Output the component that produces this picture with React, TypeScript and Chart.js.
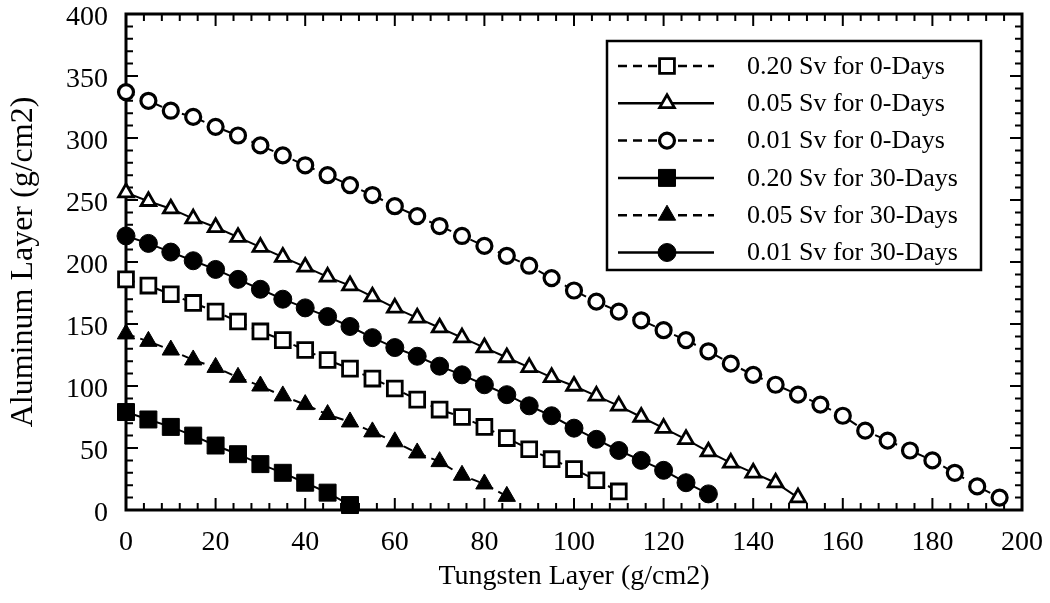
import React, { useEffect, useRef } from 'react';
import { Chart, registerables, PointElement } from 'chart.js';

Chart.register(...registerables);

// Tungsten layer (g/cm2) sample positions
const tungsten = [
  0, 5, 10, 15, 20, 25, 30, 35, 40, 45, 50, 55, 60, 65, 70, 75, 80, 85, 90, 95,
  100, 105, 110, 115, 120, 125, 130, 135, 140, 145, 150, 155, 160, 165, 170, 175, 180, 185, 190, 195,
];

// Aluminum layer (g/cm2) values per series
const sv020day0 = [186, 181, 174, 167, 160, 152, 144, 137, 129, 121, 114, 106, 98, 89, 81, 75, 67, 58, 49, 41, 33, 24, 15];
const sv005day0 = [256, 249, 243, 235, 228, 220, 212, 204, 196, 188, 181, 172, 163, 155, 147, 139, 131, 123, 115, 107, 100, 92, 84, 75, 66, 57, 47, 38, 30, 22, 10];
const sv001day0 = [337, 330, 322, 317, 309, 302, 294, 286, 278, 270, 262, 254, 245, 237, 229, 221, 213, 205, 197, 187, 177, 168, 160, 153, 145, 137, 128, 118, 109, 101, 93, 85, 76, 64, 56, 48, 40, 30, 19, 10];
const sv020day30 = [79, 73, 67, 60, 52, 45, 37, 30, 22, 14, 4];
const sv005day30 = [142, 136, 129, 121, 115, 107, 100, 92, 85, 77, 71, 63, 55, 46, 39, 28, 21, 11];
const sv001day30 = [221, 215, 208, 201, 194, 186, 178, 170, 163, 156, 148, 139, 131, 124, 116, 109, 101, 93, 84, 76, 66, 57, 48, 40, 32, 22, 13];

const seriesLabels = [
  '0.20 Sv for 0-Days',
  '0.05 Sv for 0-Days',
  '0.01 Sv for 0-Days',
  '0.20 Sv for 30-Days',
  '0.05 Sv for 30-Days',
  '0.01 Sv for 30-Days',
];
const seriesValues = [sv020day0, sv005day0, sv001day0, sv020day30, sv005day30, sv001day30];

const xTitle = 'Tungsten Layer (g/cm2)';
const yTitle = 'Aluminum Layer (g/cm2)';

const FONT = '"Liberation Serif", "Times New Roman", Times, serif';

const DASH = [9, 6];
const seriesStyles = [
  { pointStyle: 'rect', radius: 10.5, bw: 2.8, fill: '#ffffff', dash: DASH },
  { pointStyle: 'triangle', radius: 8.5, bw: 2.8, fill: '#ffffff', dash: [] },
  { pointStyle: 'circle', radius: 7.5, bw: 3.2, fill: '#ffffff', dash: DASH },
  { pointStyle: 'rect', radius: 12, bw: 1, fill: '#000000', dash: [] },
  { pointStyle: 'triangle', radius: 10, bw: 1, fill: '#000000', dash: DASH },
  { pointStyle: 'circle', radius: 9, bw: 1, fill: '#000000', dash: [] },
];

const frameTicks = {
  id: 'frameTicks',
  beforeDatasetsDraw(chart: any) {
    const { ctx, chartArea: a, scales } = chart;
    const xs = scales.x;
    const ys = scales.y;
    ctx.save();
    ctx.strokeStyle = '#000';
    ctx.lineWidth = 2;
    ctx.beginPath();
    for (let v = 0; v <= 200; v += 4) {
      const px = xs.getPixelForValue(v);
      const len = v % 20 === 0 ? 12 : 7;
      ctx.moveTo(px, a.bottom);
      ctx.lineTo(px, a.bottom - len);
      ctx.moveTo(px, a.top);
      ctx.lineTo(px, a.top + len);
    }
    for (let v = 0; v <= 400; v += 10) {
      const py = ys.getPixelForValue(v);
      const len = v % 50 === 0 ? 12 : 7;
      ctx.moveTo(a.left, py);
      ctx.lineTo(a.left + len, py);
      ctx.moveTo(a.right, py);
      ctx.lineTo(a.right - len, py);
    }
    ctx.stroke();
    ctx.lineWidth = 3;
    ctx.strokeRect(a.left, a.top, a.right - a.left, a.bottom - a.top);
    ctx.restore();
  },
};

const legendBox = {
  id: 'legendBox',
  afterDraw(chart: any) {
    const ctx = chart.ctx;
    const left = 607;
    const top = 41;
    const right = 981;
    const bottom = 270;
    const firstY = 66;
    const rowH = 37.3;
    ctx.save();
    ctx.fillStyle = '#fff';
    ctx.fillRect(left, top, right - left, bottom - top);
    ctx.strokeStyle = '#000';
    ctx.lineWidth = 2.5;
    ctx.strokeRect(left, top, right - left, bottom - top);
    chart.data.datasets.forEach((ds: any, i: number) => {
      const cy = firstY + i * rowH;
      ctx.save();
      ctx.strokeStyle = '#000';
      ctx.lineWidth = 2.5;
      ctx.setLineDash(ds.borderDash || []);
      ctx.beginPath();
      ctx.moveTo(618, cy);
      ctx.lineTo(714, cy);
      ctx.stroke();
      ctx.restore();
      const pt: any = new (PointElement as any)({
        x: 667,
        y: cy,
        options: {
          pointStyle: ds.pointStyle,
          radius: ds.pointRadius,
          borderWidth: ds.pointBorderWidth,
          borderColor: '#000',
          backgroundColor: ds.pointBackgroundColor,
          rotation: 0,
        },
      });
      pt.draw(ctx);
      ctx.fillStyle = '#000';
      ctx.font = `26px ${FONT}`;
      ctx.textBaseline = 'middle';
      ctx.textAlign = 'left';
      ctx.fillText(ds.label, 747, cy + 1);
    });
    ctx.restore();
  },
};

export default function App() {
  const canvasRef = useRef<HTMLCanvasElement | null>(null);

  useEffect(() => {
    if (!canvasRef.current) return;
    const datasets = seriesValues.map((vals, i) => {
      const st = seriesStyles[i];
      return {
        label: seriesLabels[i],
        data: vals.map((v, j) => ({ x: tungsten[j], y: v })),
        borderColor: '#000',
        borderWidth: 2,
        borderDash: st.dash,
        backgroundColor: st.fill,
        pointStyle: st.pointStyle,
        pointRadius: st.radius,
        pointHoverRadius: st.radius,
        pointBorderWidth: st.bw,
        pointBorderColor: '#000',
        pointBackgroundColor: st.fill,
        fill: false,
        tension: 0,
        clip: false,
      };
    });

    const chart = new Chart(canvasRef.current, {
      type: 'line',
      data: { datasets },
      options: {
        animation: false,
        responsive: false,
        devicePixelRatio: 1,
        events: [],
        layout: { padding: { top: 14, right: 28, left: 0, bottom: 0 } },
        plugins: {
          legend: { display: false },
          tooltip: { enabled: false },
          title: { display: false },
        },
        scales: {
          x: {
            type: 'linear',
            min: 0,
            max: 200,
            grid: { display: false, drawTicks: false },
            border: { display: false },
            ticks: {
              stepSize: 20,
              color: '#000',
              padding: 16,
              maxRotation: 0,
              font: { family: FONT, size: 28 },
            },
            title: {
              display: true,
              text: xTitle,
              color: '#000',
              font: { family: FONT, size: 28 },
              padding: { top: 0, bottom: 10 },
            },
            afterFit: (s: any) => {
              s.height = 93;
              s.paddingLeft = 0;
              s.paddingRight = 0;
            },
          },
          y: {
            type: 'linear',
            min: 0,
            max: 400,
            grid: { display: false, drawTicks: false },
            border: { display: false },
            ticks: {
              stepSize: 50,
              color: '#000',
              padding: 18,
              labelOffset: 4,
              font: { family: FONT, size: 28, lineHeight: 1 },
            },
            title: {
              display: true,
              text: yTitle,
              color: '#000',
              font: { family: FONT, size: 32 },
              padding: { top: 4, bottom: 0 },
            },
            afterFit: (s: any) => {
              s.width = 126;
              s.paddingTop = 0;
              s.paddingBottom = 0;
            },
          },
        },
      } as any,
      plugins: [frameTicks, legendBox],
    });
    return () => chart.destroy();
  }, []);

  return (
    <div style={{ position: 'absolute', left: 0, top: 0, width: 1050, height: 603, background: '#fff' }}>
      <canvas ref={canvasRef} width={1050} height={603} style={{ width: 1050, height: 603, display: 'block' }} />
    </div>
  );
}
